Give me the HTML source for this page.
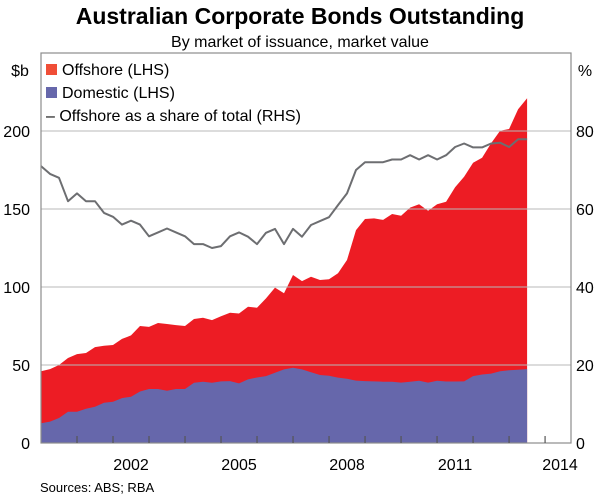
<!DOCTYPE html>
<html><head><meta charset="utf-8"><style>
body{margin:0;background:#fff;}
svg{display:block;font-family:"Liberation Sans",Arial,sans-serif;}
</style></head><body>
<svg id="chart" width="600" height="500" viewBox="0 0 600 500">
<text x="300" y="24" text-anchor="middle" font-size="23" font-weight="bold" fill="#000">Australian Corporate Bonds Outstanding</text>
<text x="300" y="47" text-anchor="middle" font-size="16" fill="#000">By market of issuance, market value</text>
<g id="plot"></g>
<text x="20" y="76" text-anchor="middle" font-size="16">$b</text>
<text x="585" y="76" text-anchor="middle" font-size="16">%</text>
<g>
<rect x="46" y="64" width="11" height="11" fill="#f04e37"/>
<text x="62" y="75" font-size="16">Offshore (LHS)</text>
<rect x="46" y="87" width="11" height="11" fill="#6667ab"/>
<text x="62" y="98" font-size="16">Domestic (LHS)</text>
<text x="46" y="121" font-size="16">– Offshore as a share of total (RHS)</text>
</g>
<text x="40" y="492" font-size="13">Sources: ABS; RBA</text>
</svg>
<script>
const totalVals=[46,47.4,50,54.5,57,57.7,61.5,62.4,62.8,66.7,69,75,74.4,76.9,76.3,75.6,75,79.5,80.3,78.8,81.2,83.5,83,87.4,86.7,92.7,99.6,96,107.7,103.8,106.6,104.5,105,108.8,117.3,136.5,143.6,144,143,146.8,145.7,150.9,153,148.9,153,154.7,163.9,170.7,179.7,182.9,192.1,200.2,201.3,213.9,221];
const domesticVals=[12.6,13.7,16,20,20,22,23.3,25.8,26.5,28.8,29.7,33,34.6,34.6,33.5,34.6,34.6,38.6,39.3,38.6,39.5,39.7,38.2,40.8,42,42.9,45,47.2,48.3,47.2,45.3,43.6,43.1,41.9,41.2,40,39.7,39.5,39.3,39.3,38.7,39.3,39.9,38.7,39.9,39.4,39.4,39.5,42.9,43.9,44.5,46,46.6,47,47.4];
const shareVals=[71,69,68,62,64,62,62,59,58,56,57,56,53,54,55,54,53,51,51,50,50.5,53,54,52.9,51,53.9,54.9,51,54.9,52.9,55.9,56.9,57.9,61,64,70,72,72,72,72.7,72.7,73.8,72.7,73.8,72.7,73.8,75.9,76.8,75.8,75.8,76.8,77,75.9,77.9,77.9];
const startYear=2000.0, quarterStep=0.25;
const leftTicks=[0,50,100,150,200];
const rightTicks=[0,20,40,60,80];
const yearLabels=[2002,2005,2008,2011,2014];

const X0=41,X1=571,YB=443,YT=53,xMin=2000,xMax=2014.72;
const xs=t=>X0+(t-xMin)/(xMax-xMin)*(X1-X0);
const yL=v=>YB-v/250*(YB-YT);
const yR=v=>YB-v/100*(YB-YT);
const NS='http://www.w3.org/2000/svg';
const plot=document.getElementById('plot');
function mk(tag,attrs){const e=document.createElementNS(NS,tag);for(const k in attrs)e.setAttribute(k,attrs[k]);plot.appendChild(e);return e;}
const tOf=i=>startYear+i*quarterStep;
// areas
let pT='M'+xs(tOf(0))+','+YB;
totalVals.forEach((v,i)=>{pT+=' L'+xs(tOf(i)).toFixed(1)+','+yL(v).toFixed(1);});
pT+=' L'+xs(tOf(totalVals.length-1)).toFixed(1)+','+YB+' Z';
const a1=mk('path',{d:pT,fill:'#ed1c24'});


let pD='M'+xs(tOf(0))+','+YB;
domesticVals.forEach((v,i)=>{pD+=' L'+xs(tOf(i)).toFixed(1)+','+yL(v).toFixed(1);});
pD+=' L'+xs(tOf(domesticVals.length-1)).toFixed(1)+','+YB+' Z';
const a2=mk('path',{d:pD,fill:'#6667ab'});


// gridlines
leftTicks.forEach(v=>{
 if(v>0){const g=mk('line',{x1:X0,x2:X1,y1:yL(v),y2:yL(v),stroke:'#b8b8b8','stroke-width':1});
 
 }
 const t=mk('text',{x:30,y:yL(v)+6,'text-anchor':'end','font-size':16});
 
 
 t.textContent=v;
});
rightTicks.forEach(v=>{
 const t=mk('text',{x:576,y:yR(v)+6,'font-size':16});
 
 
 t.textContent=v;
});
// share line
const pts=shareVals.map((v,i)=>xs(tOf(i)).toFixed(1)+','+yR(v).toFixed(1)).join(' ');
const ln=mk('polyline',{points:pts,fill:'none',stroke:'#6d6e71','stroke-width':2,'stroke-linejoin':'round'});


// frame
const fr=mk('rect',{x:X0,y:YT,width:X1-X0,height:YB-YT,fill:'none',stroke:'#8c8c8c','stroke-width':1.2});


// year ticks
for(let y=2001;y<=2014;y++){
 const tk=mk('line',{x1:xs(y),x2:xs(y),y1:YB,y2:YB-7,stroke:'#555','stroke-width':1.2});
 
 
}
yearLabels.forEach(y=>{
 const t=mk('text',{x:Math.min(xs(y+0.5),560),y:470,'text-anchor':'middle','font-size':16});
 
 
 t.textContent=y;
});
</script>
</body></html>
